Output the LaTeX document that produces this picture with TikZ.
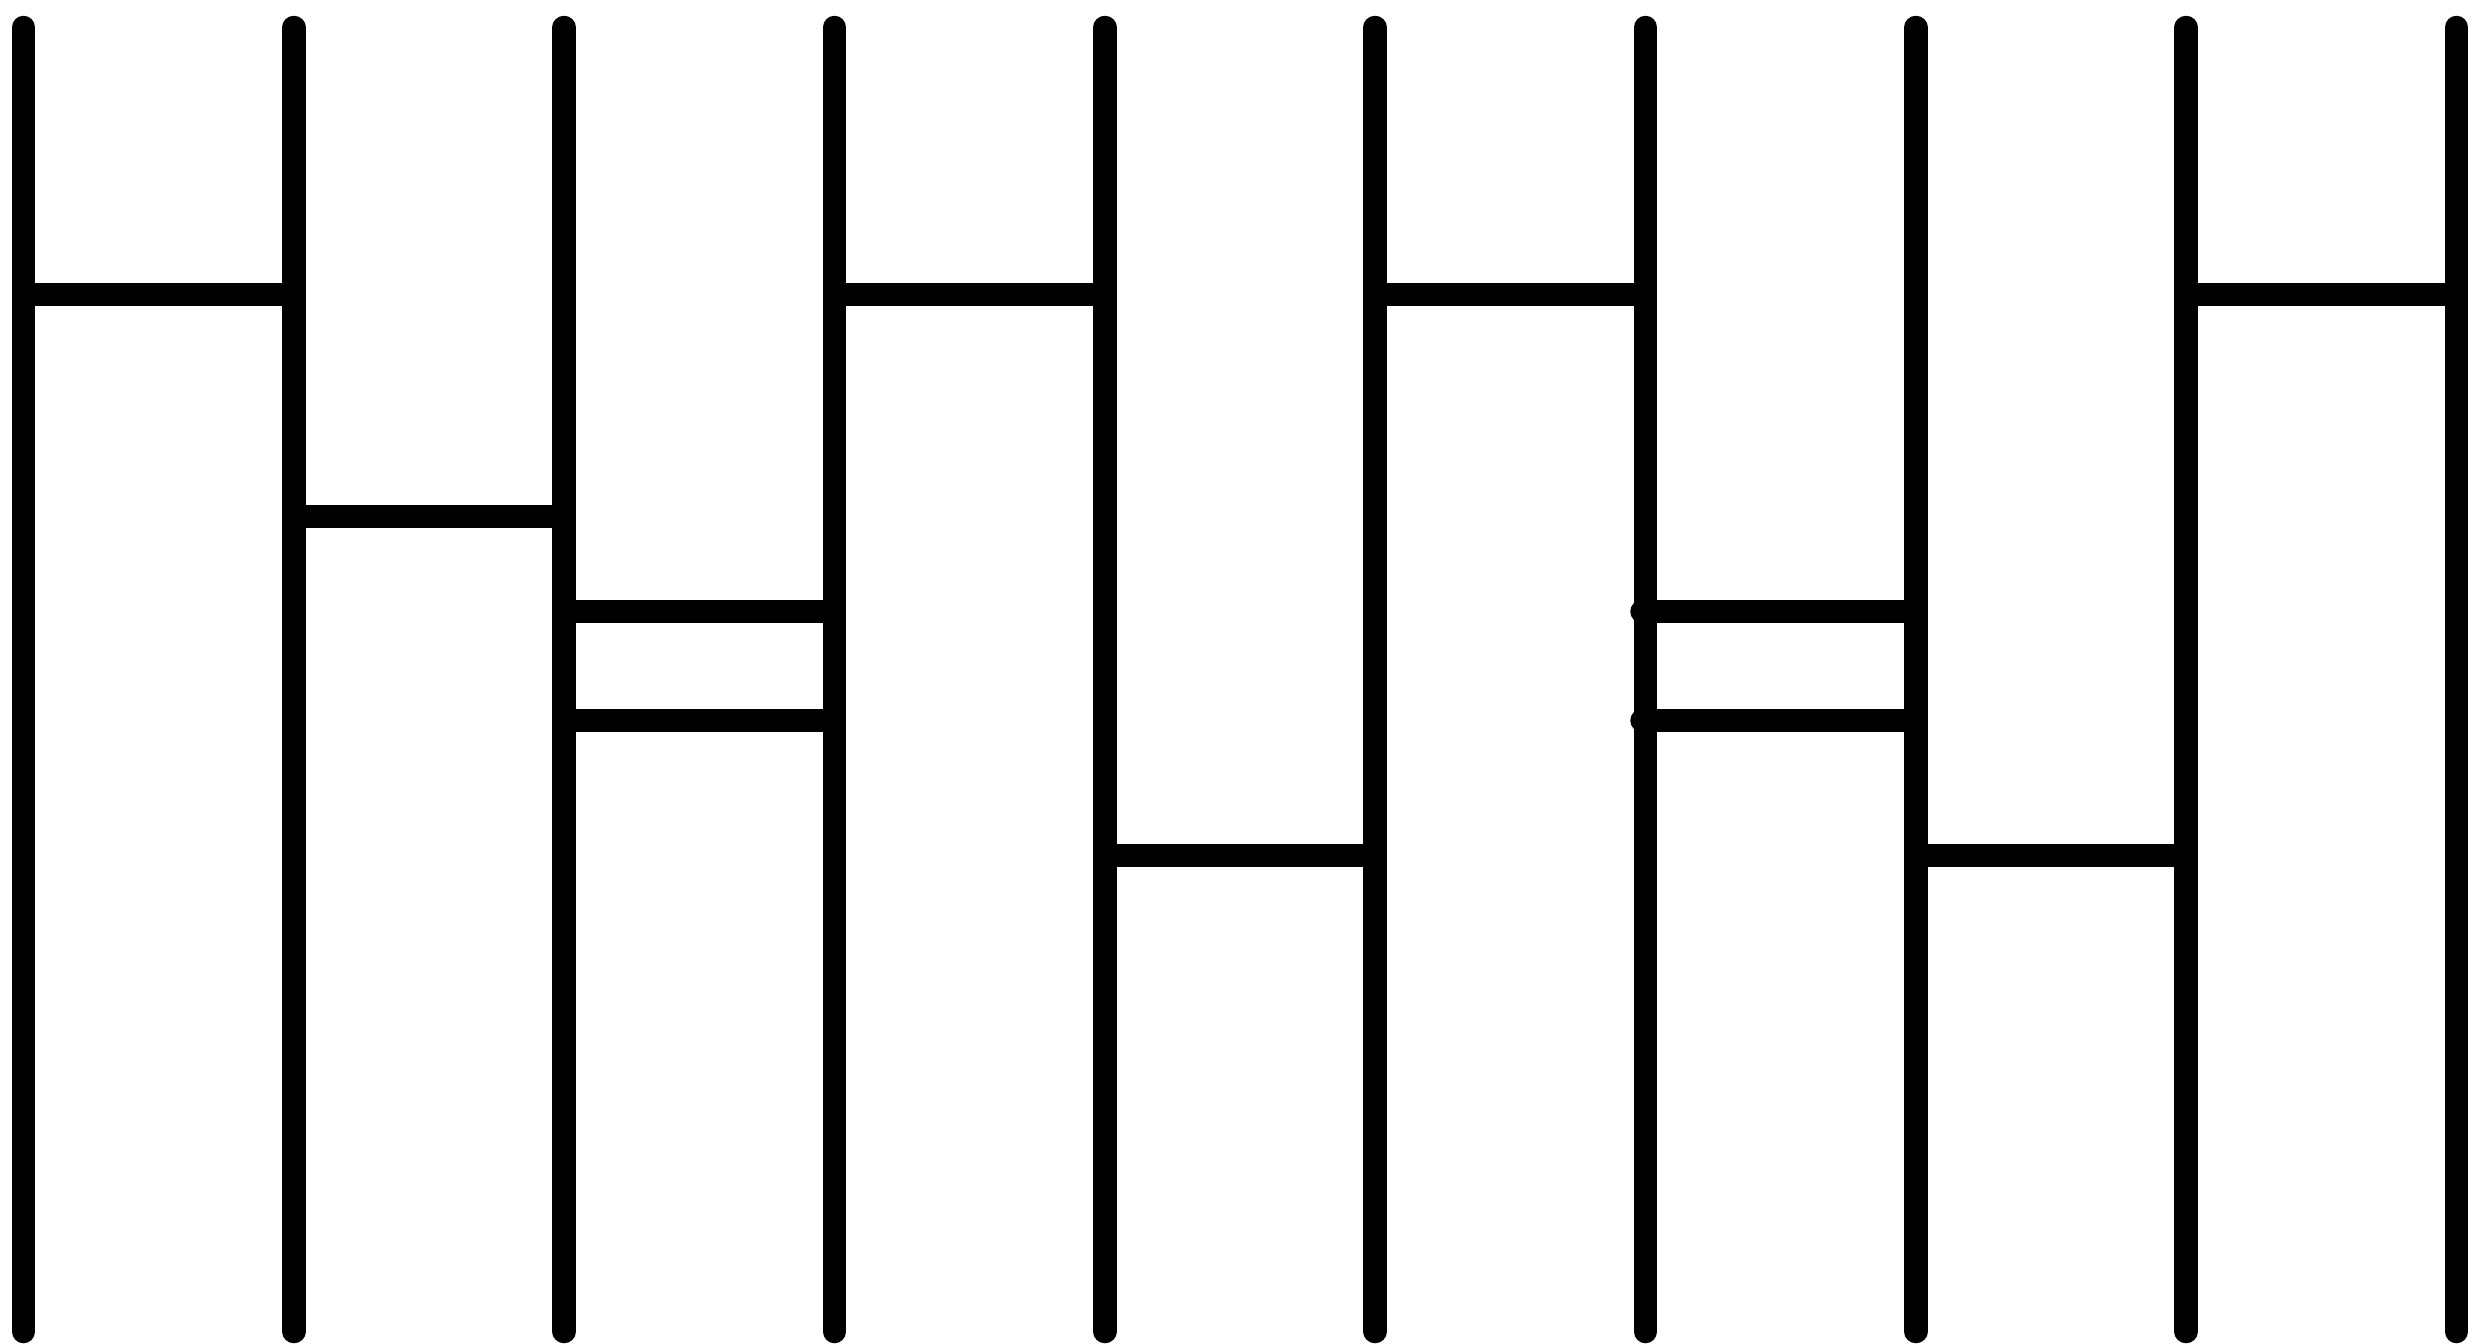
\documentclass[tikz,border=0pt]{standalone}
\begin{document}
\begin{tikzpicture}[x=0.5pt,y=-0.5pt,
  wire/.style={line width=11.75pt,line cap=round,black},
  rung/.style={line width=11.75pt,line cap=butt,black},
  rungdot/.style={line width=11.75pt,line cap=round,black}]
\useasboundingbox (0,0) rectangle (2481,1344);
\foreach \i in {1,...,10}{
  \coordinate (t\i) at ({23.5+270.33*(\i-1)},27.5);
  \coordinate (b\i) at ({23.5+270.33*(\i-1)},1331.5);
  \draw[wire] (t\i) -- (b\i);
}
\foreach \a/\b/\y in {1/2/294.5, 4/5/294.5, 6/7/294.5, 9/10/294.5,
                      2/3/516.5, 3/4/611.5, 3/4/720.5,
                      5/6/855.5, 8/9/855.5}{
  \draw[rung] (t\a |- 0,\y) -- (t\b |- 0,\y);
}
\coordinate (d1) at (1642,611.5);
\coordinate (d2) at (1642,720.5);
\draw[rungdot] (d1) -- (t8 |- d1);
\draw[rungdot] (d2) -- (t8 |- d2);
\end{tikzpicture}
\end{document}
